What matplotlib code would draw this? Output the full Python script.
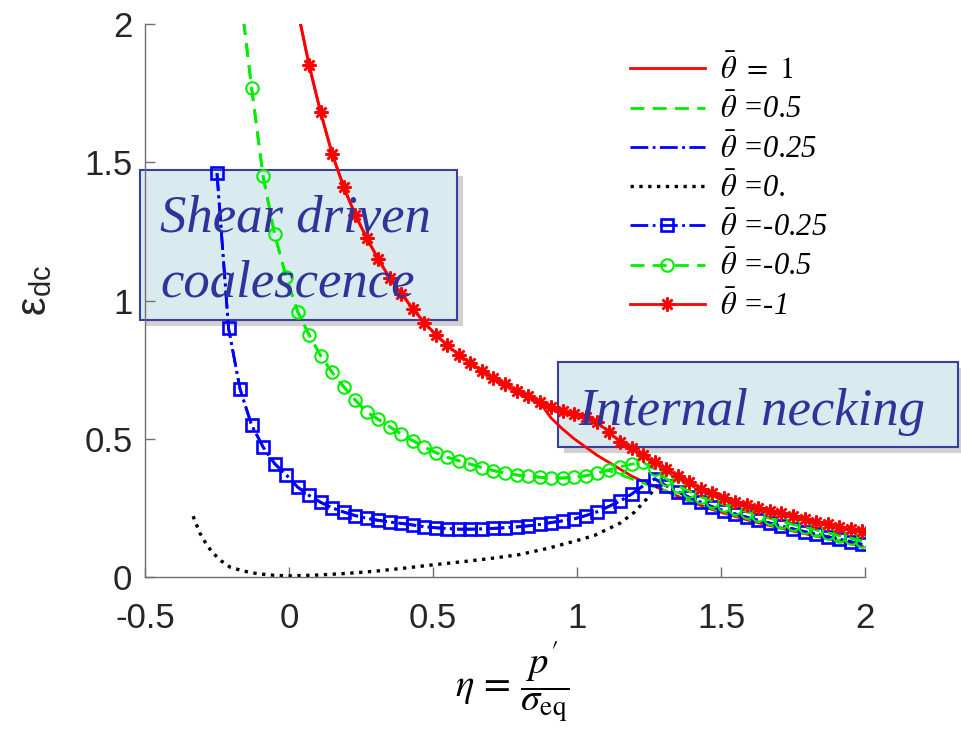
import matplotlib
matplotlib.use('Agg')
import matplotlib.pyplot as plt
from matplotlib.patches import Rectangle

plt.rcParams['mathtext.fontset'] = 'stix'
plt.rcParams['font.family'] = ['Liberation Sans', 'DejaVu Sans']

# shared triaxiality grid of the marker curves
eta = [-0.25, -0.21, -0.17, -0.13, -0.09, -0.05, -0.01, 0.03, 0.07, 0.11,
       0.15, 0.19, 0.23, 0.27, 0.31, 0.35, 0.39, 0.43, 0.47, 0.51,
       0.55, 0.59, 0.63, 0.67, 0.71, 0.75, 0.79, 0.83, 0.87, 0.91,
       0.95, 0.99, 1.03, 1.07, 1.11, 1.15, 1.19, 1.23, 1.27, 1.31,
       1.35, 1.39, 1.43, 1.47, 1.51, 1.55, 1.59, 1.63, 1.67, 1.71,
       1.75, 1.79, 1.83, 1.87, 1.91, 1.95, 1.99]

# theta = -0.25 (squares), starts at eta = -0.25
eps_m025 = [1.46, 0.90, 0.68, 0.55, 0.47, 0.41, 0.37, 0.325, 0.295, 0.27,
            0.25, 0.235, 0.222, 0.212, 0.205, 0.199, 0.194, 0.188, 0.182, 0.178,
            0.175, 0.173, 0.173, 0.174, 0.176, 0.178, 0.181, 0.185, 0.19, 0.197,
            0.203, 0.21, 0.222, 0.236, 0.255, 0.275, 0.30, 0.33, 0.355, 0.33,
            0.308, 0.288, 0.27, 0.254, 0.24, 0.228, 0.216, 0.205, 0.195, 0.184,
            0.174, 0.164, 0.155, 0.146, 0.137, 0.128, 0.118]

# theta = -0.5 (circles), starts at eta = -0.17
eps_m05 = [2.12, 1.77, 1.45, 1.24, 1.085, 0.96, 0.875, 0.80,
           0.74, 0.688, 0.64, 0.597, 0.570, 0.543, 0.517, 0.493, 0.47, 0.45,
           0.433, 0.42, 0.408, 0.396, 0.385, 0.376, 0.369, 0.365, 0.361, 0.358,
           0.358, 0.361, 0.366, 0.376, 0.388, 0.399, 0.408, 0.415, 0.39, 0.355,
           0.33, 0.31, 0.29, 0.275, 0.262, 0.25, 0.236, 0.223, 0.212, 0.20,
           0.19, 0.18, 0.17, 0.16, 0.15, 0.14, 0.13]

# theta = -1 (stars), starts at eta = 0.03
eps_m1 = [2.05, 1.85, 1.68,
          1.53, 1.41, 1.31, 1.225, 1.15, 1.08, 1.025, 0.97, 0.92, 0.876,
          0.838, 0.803, 0.773, 0.745, 0.72, 0.697, 0.673, 0.653, 0.633, 0.614,
          0.602, 0.59, 0.578, 0.56, 0.525, 0.49, 0.465, 0.44, 0.415, 0.39,
          0.365, 0.342, 0.32, 0.302, 0.287, 0.273, 0.26, 0.25, 0.24, 0.23,
          0.22, 0.21, 0.20, 0.19, 0.18, 0.172, 0.165]

# theta = 1, same as theta = -1 up to eta = 0.87, then necking branch
eps_1_tail = [0.575, 0.535, 0.50, 0.47, 0.44, 0.415, 0.39, 0.365, 0.345, 0.328,
              0.31, 0.292, 0.275, 0.259, 0.244, 0.231, 0.219, 0.207, 0.196, 0.186,
              0.176, 0.166, 0.157, 0.148, 0.139, 0.13, 0.121, 0.112]

# theta = 0.5, same as theta = -0.5 up to eta = 1.07
eps_05_tail = [0.385, 0.37, 0.355, 0.34, 0.325, 0.31, 0.293, 0.277, 0.262, 0.248,
               0.235, 0.223, 0.211, 0.2, 0.189, 0.179, 0.169, 0.16, 0.151, 0.142,
               0.133, 0.124, 0.115]

# theta = 0 (dotted)
eta_0 = [-0.333, -0.31, -0.285, -0.264, -0.235, -0.205, -0.16, -0.11, -0.05, 0.0,
         0.1, 0.2, 0.3, 0.4, 0.5, 0.6, 0.7, 0.8, 0.9, 1.0,
         1.06, 1.1, 1.15, 1.2, 1.24, 1.27, 1.29]
eps_0 = [0.22, 0.16, 0.115, 0.087, 0.058, 0.036, 0.022, 0.012, 0.006, 0.004,
         0.007, 0.013, 0.021, 0.032, 0.044, 0.055, 0.067, 0.081, 0.104, 0.132,
         0.15, 0.17, 0.195, 0.235, 0.28, 0.32, 0.345]

eta_m05 = eta[2:]
eta_m1 = eta[7:]
eps_1 = eps_m1[:22] + eps_1_tail
eps_05 = eps_m05[:32] + eps_05_tail

fig = plt.figure(figsize=(9.61, 7.31), dpi=100)
ax = fig.add_axes([145 / 961, 1 - 577 / 731, 720 / 961, 553 / 731])

lw = 2.0
ax.plot(eta_m1, eps_1, '-', color='#ff0000', lw=lw, label=r'$\bar{\theta}\ =\ 1$')
ax.plot(eta_m05, eps_05, '--', color='#00ee00', lw=lw, dashes=(5, 3),
        label=r'$\bar{\theta}$ =0.5')
ax.plot(eta, eps_m025, '-.', color='#0000ff', lw=lw, label=r'$\bar{\theta}$ =0.25')
ax.plot(eta_0, eps_0, ':', color='black', lw=2.4, label=r'$\bar{\theta}$ =0.')
ax.plot(eta, eps_m025, '-.', color='#0000ff', lw=lw, marker='s', ms=8.5, mfc='none',
        mew=1.9, label=r'$\bar{\theta}$ =-0.25')
ax.plot(eta_m05, eps_m05, '--', color='#00ee00', lw=lw, dashes=(5, 3), marker='o',
        ms=9, mfc='none', mew=1.5, label=r'$\bar{\theta}$ =-0.5')
ax.plot(eta_m1, eps_m1, '-', color='#ff0000', lw=lw, marker=(8, 2, 0), ms=10,
        mew=1.8, label=r'$\bar{\theta}$ =-1')

ax.set_xlim(-0.5, 2)
ax.set_ylim(0, 2)
ax.set_xticks([-0.5, 0, 0.5, 1, 1.5, 2])
ax.set_xticklabels(['-0.5', '0', '0.5', '1', '1.5', '2'])
ax.set_yticks([0, 0.5, 1, 1.5, 2])
ax.set_yticklabels(['0', '0.5', '1', '1.5', '2'])
for s in ['top', 'right']:
    ax.spines[s].set_visible(False)
for s in ['left', 'bottom']:
    ax.spines[s].set_color('#707070')
    ax.spines[s].set_linewidth(1.0)
ax.tick_params(direction='in', length=7, width=1.0, color='#707070',
               labelsize=25, labelcolor='#262626')
ax.tick_params(axis='y', pad=9)
ax.tick_params(axis='x', pad=18)

leg = ax.legend(loc='upper left', bbox_to_anchor=(0.635, 0.995), frameon=False,
                prop={'family': 'Liberation Serif', 'style': 'italic', 'size': 22},
                handlelength=2.45, labelspacing=0.25, handletextpad=0.5)

fig.text(35 / 961, 1 - 290 / 731, r'ε$_\mathregular{dc}$', rotation=90,
         fontsize=30, color='#262626', ha='center', va='center')
fig.text(512 / 961, 1 - 682 / 731, r"$\eta\, =\, \dfrac{p'}{\sigma_{\mathrm{eq}}}$",
         fontsize=28, ha='center', va='center')

# annotation boxes (figure pixel coordinates)
def add_box(x0, y0, x1, y1):
    W, H = 961.0, 731.0
    shadow = Rectangle((x0 / W + 6 / W, 1 - y1 / H - 6 / H), (x1 - x0) / W, (y1 - y0) / H,
                       transform=fig.transFigure, facecolor='#9a9a9a', alpha=0.45,
                       edgecolor='none', zorder=0.4, clip_on=False)
    box = Rectangle((x0 / W, 1 - y1 / H), (x1 - x0) / W, (y1 - y0) / H,
                    transform=fig.transFigure, facecolor='#daebef', edgecolor='#3b3f9a',
                    lw=1.5, zorder=0.5, clip_on=False)
    ax.add_patch(shadow)
    ax.add_patch(box)

add_box(140, 170, 457, 320)
add_box(558, 362, 958, 447)

fig.text(160 / 961, 1 - 232 / 731, 'Shear driven', family='Liberation Serif',
         style='italic', fontsize=38, color='#30349a', va='baseline', zorder=1)
fig.text(160 / 961, 1 - 297 / 731, 'coalescence', family='Liberation Serif',
         style='italic', fontsize=38, color='#30349a', va='baseline', zorder=1)
fig.text(578 / 961, 1 - 425 / 731, 'Internal necking', family='Liberation Serif',
         style='italic', fontsize=38, color='#30349a', va='baseline', zorder=1)

fig.savefig('out.png', dpi=100)
